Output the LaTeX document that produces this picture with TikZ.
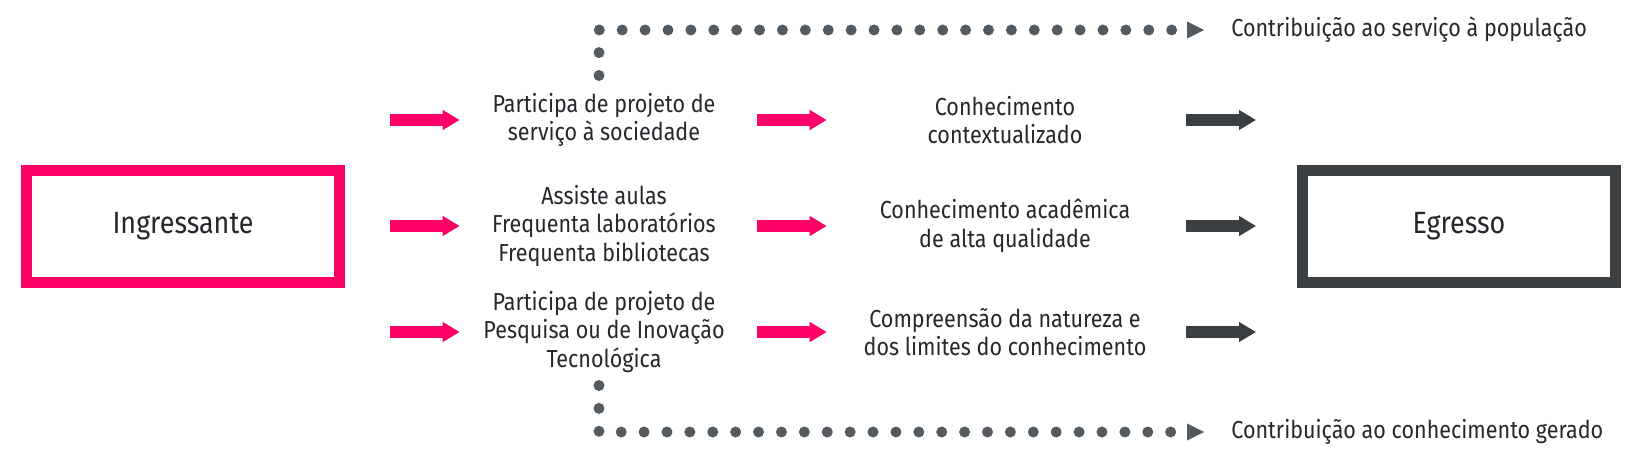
\documentclass[tikz,border=0pt]{standalone}
\usepackage{fontspec}
\setmainfont{Fira Sans}[FakeStretch=0.875]
\usetikzlibrary{arrows.meta}
\usetikzlibrary{positioning}

\definecolor{rosa}{HTML}{FF0066}
\definecolor{grafite}{HTML}{3B3F42}
\definecolor{pontilhado}{HTML}{545B60}
\definecolor{texto}{HTML}{24282C}

\begin{document}
\begin{tikzpicture}[x=0.02cm, y=-0.02cm,
box/.style={draw, line width=0.22cm, minimum width=6.26cm, minimum height=2.24cm, font=\fontsize{17.5}{20}\selectfont, text=texto},
etapa/.style={align=center, minimum width=5.68cm, inner sep=0pt, font=\fontsize{14}{16.2}\selectfont, text=texto},
ganho/.style={align=center, minimum width=7.04cm, inner sep=0pt, font=\fontsize{14}{16.2}\selectfont, text=texto},
saida/.style={anchor=west, inner sep=0pt, font=\fontsize{14}{16.2}\selectfont, text=texto},
seta/.style={line width=0.24cm, -{Triangle[length=0.34cm, width=0.38cm]}},
pontos/.style={pontilhado, line width=0.22cm, line cap=round, dash pattern=on 0pt off 0.458cm, -{Triangle[length=0.34cm, width=0.34cm, line width=0pt]}},
]
\useasboundingbox (0,0) rectangle (1644,456);

% caixas de entrada e saida
\node[box, draw=rosa](ing) at (183,226.5){Ingressante};
\node[box, draw=grafite](egr) at (1459,226.5){Egresso};

% atividades
\node[etapa](a1) at (604,120){Participa de projeto de\\serviço à sociedade};
\node[etapa](a2) at (604,226){Assiste aulas\\Frequenta laboratórios\\Frequenta bibliotecas};
\node[etapa](a3) at (604,332){Participa de projeto de\\Pesquisa ou de Inovação\\Tecnológica};

% resultados
\node[ganho](b1) at (1005,120){Conhecimento\\contextualizado};
\node[ganho](b2) at (1005,226){Conhecimento acadêmica\\de alta qualidade};
\node[ganho](b3) at (1005,332){Compreensão da natureza e\\dos limites do conhecimento};

% contribuicoes
\node[saida](pop) at (1231,30){Contribuição ao serviço à população};
\node[saida](ger) at (1231,432){Contribuição ao conhecimento gerado};
\coordinate (d1) at (599,75.5);
\coordinate (d3) at (599,385.5);

\foreach \i in {1,2,3}{
  \draw[seta, rosa, shorten <=45*0.02cm, shorten >=2*0.02cm] (a\i.west -| ing.east) -- (a\i.west);
  \draw[seta, rosa, shorten <=11*0.02cm, shorten >=2*0.02cm] (a\i.east) -- (b\i.west);
  \draw[seta, grafite, shorten <=5*0.02cm, shorten >=41*0.02cm] (b\i.east) -- (b\i.east -| egr.west);
}
\draw[pontos, shorten >=27*0.02cm] (d1) |- (pop.west);
\draw[pontos, shorten >=27*0.02cm] (d3) |- (ger.west);
\end{tikzpicture}
\end{document}
